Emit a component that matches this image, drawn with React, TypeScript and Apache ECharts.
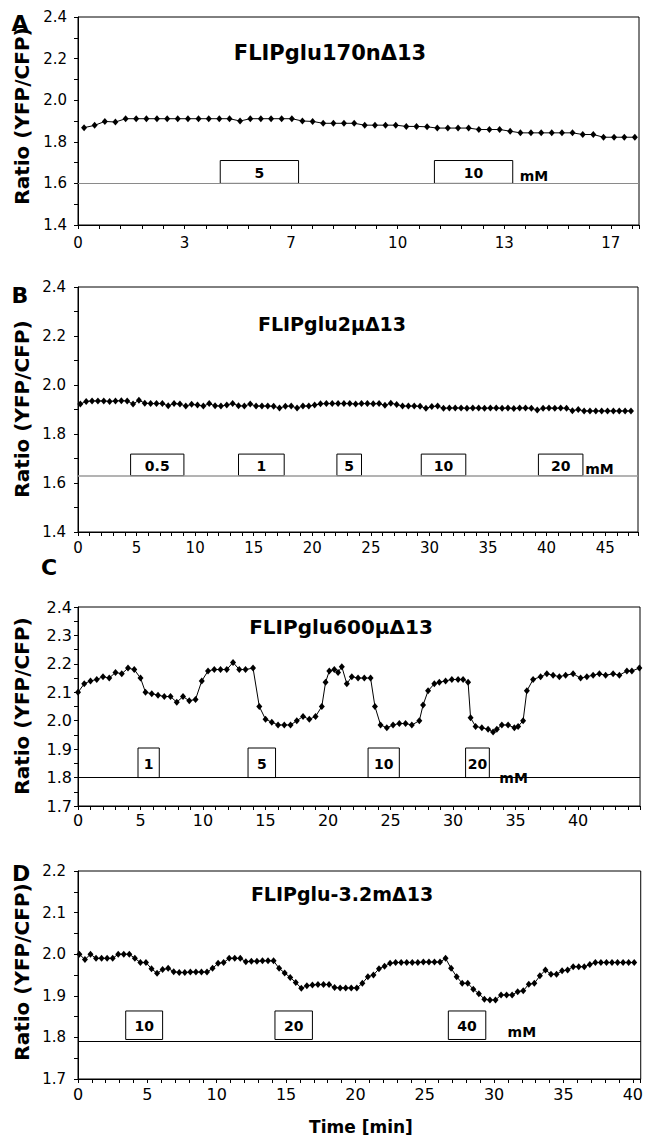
import React, { useEffect, useRef } from 'react';
import * as echarts from 'echarts';

const FONT = '"DejaVu Sans", sans-serif';

// ---------- Panel A : FLIPglu170nΔ13 ----------
const titleA = 'FLIPglu170nΔ13';
const timeA = [0.19, 0.52, 0.84, 1.17, 1.49, 1.82, 2.14, 2.47, 2.79, 3.12, 3.44, 3.77, 4.09, 4.42, 4.74, 5.07, 5.39, 5.72, 6.04, 6.37, 6.69, 7.02, 7.34, 7.67, 7.99, 8.32, 8.64, 8.97, 9.29, 9.62, 9.94, 10.27, 10.59, 10.92, 11.24, 11.57, 11.89, 12.22, 12.54, 12.87, 13.19, 13.52, 13.84, 14.17, 14.49, 14.82, 15.14, 15.47, 15.79, 16.12, 16.44, 16.77, 17.09, 17.42];
const ratioA = [1.868, 1.879, 1.898, 1.895, 1.911, 1.911, 1.911, 1.911, 1.911, 1.911, 1.911, 1.911, 1.911, 1.911, 1.911, 1.900, 1.911, 1.911, 1.911, 1.911, 1.911, 1.900, 1.898, 1.889, 1.889, 1.889, 1.889, 1.880, 1.880, 1.880, 1.880, 1.874, 1.874, 1.872, 1.866, 1.866, 1.866, 1.866, 1.859, 1.859, 1.859, 1.851, 1.843, 1.843, 1.843, 1.843, 1.843, 1.843, 1.835, 1.835, 1.822, 1.822, 1.822, 1.822];
const boxesA = [[4.45, 6.9, 1.71, 1.6], [11.15, 13.6, 1.71, 1.6]];
const boxLabelsA = ['5', '10'];
const baselineA = 1.6;
const unitA = [13.82, 1.6];

// ---------- Panel B : FLIPglu2μΔ13 ----------
const titleB = 'FLIPglu2μΔ13';
const timeB = [0.2, 0.7, 1.2, 1.7, 2.2, 2.7, 3.2, 3.7, 4.2, 4.7, 5.2, 5.7, 6.2, 6.7, 7.2, 7.7, 8.2, 8.7, 9.2, 9.7, 10.2, 10.7, 11.2, 11.7, 12.2, 12.7, 13.2, 13.7, 14.2, 14.7, 15.2, 15.7, 16.2, 16.7, 17.2, 17.7, 18.2, 18.7, 19.2, 19.7, 20.2, 20.7, 21.2, 21.7, 22.2, 22.7, 23.2, 23.7, 24.2, 24.7, 25.2, 25.7, 26.2, 26.7, 27.2, 27.7, 28.2, 28.7, 29.2, 29.7, 30.2, 30.7, 31.2, 31.7, 32.2, 32.7, 33.2, 33.7, 34.2, 34.7, 35.2, 35.7, 36.2, 36.7, 37.2, 37.7, 38.2, 38.7, 39.2, 39.7, 40.2, 40.7, 41.2, 41.7, 42.2, 42.7, 43.2, 43.7, 44.2, 44.7, 45.2, 45.7, 46.2, 46.7, 47.2];
const ratioB = [1.922, 1.933, 1.935, 1.935, 1.935, 1.933, 1.935, 1.936, 1.935, 1.922, 1.938, 1.926, 1.924, 1.924, 1.924, 1.915, 1.924, 1.922, 1.914, 1.921, 1.918, 1.914, 1.924, 1.915, 1.914, 1.918, 1.925, 1.915, 1.914, 1.922, 1.914, 1.914, 1.914, 1.913, 1.906, 1.913, 1.914, 1.906, 1.914, 1.914, 1.918, 1.923, 1.924, 1.924, 1.924, 1.924, 1.924, 1.922, 1.924, 1.924, 1.923, 1.924, 1.917, 1.926, 1.920, 1.914, 1.914, 1.914, 1.913, 1.905, 1.912, 1.914, 1.905, 1.906, 1.906, 1.906, 1.905, 1.906, 1.906, 1.905, 1.906, 1.906, 1.905, 1.906, 1.904, 1.906, 1.906, 1.905, 1.898, 1.905, 1.906, 1.905, 1.906, 1.905, 1.895, 1.900, 1.894, 1.894, 1.894, 1.894, 1.894, 1.894, 1.894, 1.894, 1.894];
const boxesB = [[4.49, 9.04, 1.718, 1.63], [13.7, 17.6, 1.718, 1.63], [22.1, 24.2, 1.718, 1.63], [29.3, 33.1, 1.718, 1.63], [39.3, 43.1, 1.718, 1.63]];
const boxLabelsB = ['0.5', '1', '5', '10', '20'];
const baselineB = 1.63;
const unitB = [43.3, 1.63];

// ---------- Panel C : FLIPglu600μΔ13 ----------
const titleC = 'FLIPglu600μΔ13';
const timeC = [0.0, 0.5, 1.0, 1.5, 2.0, 2.5, 3.0, 3.5, 4.0, 4.5, 5.0, 5.4, 5.9, 6.4, 6.9, 7.4, 7.9, 8.4, 8.9, 9.4, 9.9, 10.4, 10.9, 11.4, 11.9, 12.4, 12.9, 13.4, 14.0, 14.5, 15.0, 15.5, 16.0, 16.5, 17.0, 17.5, 18.0, 18.5, 19.0, 19.5, 19.8, 20.1, 20.5, 20.8, 21.1, 21.5, 21.9, 22.4, 22.9, 23.4, 23.75, 24.2, 24.7, 25.2, 25.7, 26.2, 26.7, 27.3, 27.6, 28.0, 28.5, 28.9, 29.4, 29.9, 30.4, 30.8, 31.2, 31.4, 31.8, 32.3, 32.8, 33.2, 33.5, 33.9, 34.4, 34.9, 35.2, 35.6, 35.9, 36.4, 37.0, 37.5, 38.0, 38.5, 39.0, 39.6, 40.2, 40.7, 41.2, 41.7, 42.2, 42.8, 43.3, 43.9, 44.3, 44.9];
const ratioC = [2.10, 2.13, 2.14, 2.145, 2.155, 2.15, 2.17, 2.165, 2.185, 2.18, 2.15, 2.10, 2.095, 2.09, 2.085, 2.085, 2.065, 2.085, 2.07, 2.075, 2.14, 2.175, 2.18, 2.18, 2.18, 2.205, 2.18, 2.18, 2.185, 2.05, 2.005, 1.995, 1.985, 1.985, 1.985, 2.00, 2.015, 2.005, 2.015, 2.05, 2.135, 2.175, 2.18, 2.17, 2.19, 2.13, 2.155, 2.15, 2.15, 2.15, 2.05, 1.985, 1.975, 1.985, 1.99, 1.99, 1.985, 2.00, 2.055, 2.105, 2.13, 2.135, 2.14, 2.145, 2.145, 2.145, 2.135, 2.01, 1.98, 1.975, 1.97, 1.96, 1.97, 1.985, 1.985, 1.975, 1.98, 2.00, 2.105, 2.145, 2.155, 2.165, 2.16, 2.155, 2.16, 2.165, 2.15, 2.155, 2.16, 2.165, 2.16, 2.165, 2.16, 2.175, 2.175, 2.185];
const boxesC = [[4.8, 6.5, 1.904, 1.8], [13.6, 15.8, 1.904, 1.8], [23.2, 25.7, 1.904, 1.8], [31.0, 32.9, 1.904, 1.8]];
const boxLabelsC = ['1', '5', '10', '20'];
const baselineC = 1.8;
const unitC = [33.7, 1.8];

// ---------- Panel D : FLIPglu-3.2mΔ13 ----------
const titleD = 'FLIPglu-3.2mΔ13';
const timeD = [0.1, 0.5, 0.9, 1.3, 1.7, 2.1, 2.5, 2.9, 3.3, 3.7, 4.1, 4.5, 4.9, 5.3, 5.7, 6.1, 6.5, 6.9, 7.3, 7.7, 8.1, 8.5, 8.9, 9.3, 9.7, 10.1, 10.5, 10.9, 11.3, 11.7, 12.1, 12.5, 12.9, 13.3, 13.7, 14.1, 14.5, 14.9, 15.3, 15.7, 16.1, 16.5, 16.9, 17.3, 17.7, 18.1, 18.5, 18.9, 19.3, 19.7, 20.1, 20.5, 20.9, 21.3, 21.7, 22.1, 22.5, 22.9, 23.3, 23.7, 24.1, 24.5, 24.9, 25.3, 25.7, 26.1, 26.5, 26.9, 27.3, 27.7, 28.1, 28.5, 28.9, 29.3, 29.7, 30.1, 30.5, 30.9, 31.3, 31.7, 32.1, 32.5, 32.9, 33.3, 33.7, 34.1, 34.5, 34.9, 35.3, 35.7, 36.1, 36.5, 36.9, 37.3, 37.7, 38.1, 38.5, 38.9, 39.3, 39.7, 40.1];
const ratioD = [2.000, 1.987, 2.000, 1.990, 1.990, 1.990, 1.990, 2.000, 2.000, 2.000, 1.990, 1.980, 1.980, 1.965, 1.954, 1.963, 1.966, 1.958, 1.956, 1.956, 1.957, 1.957, 1.957, 1.957, 1.966, 1.978, 1.980, 1.990, 1.990, 1.990, 1.982, 1.983, 1.983, 1.984, 1.984, 1.984, 1.966, 1.955, 1.944, 1.932, 1.918, 1.924, 1.926, 1.927, 1.927, 1.927, 1.920, 1.919, 1.919, 1.919, 1.919, 1.930, 1.946, 1.950, 1.965, 1.971, 1.978, 1.980, 1.980, 1.980, 1.980, 1.980, 1.981, 1.981, 1.981, 1.981, 1.990, 1.966, 1.946, 1.930, 1.930, 1.916, 1.905, 1.892, 1.890, 1.890, 1.902, 1.902, 1.902, 1.910, 1.912, 1.928, 1.930, 1.948, 1.962, 1.952, 1.952, 1.960, 1.962, 1.970, 1.970, 1.970, 1.975, 1.980, 1.980, 1.980, 1.980, 1.980, 1.980, 1.980, 1.980];
const boxesD = [[3.44, 6.1, 1.8635, 1.795], [14.2, 16.9, 1.8635, 1.795], [26.7, 29.4, 1.8635, 1.795]];
const boxLabelsD = ['10', '20', '40'];
const baselineD = 1.795;
const unitD = [30.97, 1.814];

const yTitle = 'Ratio (YFP/CFP)';
const xTitle = 'Time [min]';

type Panel = {
  title: string; times: number[]; ratios: number[]; boxes: number[][]; boxLabels: string[];
  baseline: number; unit: number[];
};

const panels: Panel[] = [
  { title: titleA, times: timeA, ratios: ratioA, boxes: boxesA, boxLabels: boxLabelsA, baseline: baselineA, unit: unitA },
  { title: titleB, times: timeB, ratios: ratioB, boxes: boxesB, boxLabels: boxLabelsB, baseline: baselineB, unit: unitB },
  { title: titleC, times: timeC, ratios: ratioC, boxes: boxesC, boxLabels: boxLabelsC, baseline: baselineC, unit: unitC },
  { title: titleD, times: timeD, ratios: ratioD, boxes: boxesD, boxLabels: boxLabelsD, baseline: baselineD, unit: unitD },
];

// layout (pixels) and axis settings per panel
const layout = [
  { left: 78, top: 17, width: 561, height: 208, xMax: 17.55, xInt: 2 / 3, yMin: 1.4, yMax: 2.4, yInt: 0.1, lineColor: '#8a8a8a', lineW: 1, yFont: 15, xFont: 15, yMargin: 11, xMargin: 10, titleX: 330, titleY: 53, titleSize: 21, letter: 'A', letterX: 20, letterY: 23, yTitleY: 116 },
  { left: 78, top: 287, width: 560, height: 245, xMax: 47.8, xInt: 1, yMin: 1.4, yMax: 2.4, yInt: 0.1, lineColor: '#9a9a9a', lineW: 1.5, yFont: 15, xFont: 15, yMargin: 12, xMargin: 8, titleX: 332, titleY: 324, titleSize: 19, letter: 'B', letterX: 20, letterY: 295, yTitleY: 409 },
  { left: 78, top: 607, width: 562, height: 199, xMax: 44.95, xInt: 1, yMin: 1.7, yMax: 2.4, yInt: 0.05, lineColor: '#000', lineW: 1, yFont: 16, xFont: 16, yMargin: 6, xMargin: 6, titleX: 341, titleY: 627, titleSize: 20, letter: 'C', letterX: 49, letterY: 567, yTitleY: 706 },
  { left: 78, top: 871, width: 566, height: 208, xMax: 40.57, xInt: 1, yMin: 1.7, yMax: 2.2, yInt: 0.05, lineColor: '#000', lineW: 1, yFont: 15, xFont: 16, yMargin: 12, xMargin: 7, titleX: 342, titleY: 894, titleSize: 19, letter: 'D', letterX: 21, letterY: 873, yTitleY: 972 },
];

function xFormatter(i: number) {
  return (v: number) => {
    if (i === 0) {
      const k = v * 1.5;
      const r = Math.round(k);
      return Math.abs(k - r) < 1e-3 && r % 5 === 0 ? String(Math.round(v)) : '';
    }
    const r = Math.round(v);
    return Math.abs(v - r) < 1e-6 && r % 5 === 0 ? String(r) : '';
  };
}

function yFormatter(i: number) {
  return (v: number) => {
    if (i < 2) {
      const k = Math.round(v * 10);
      return Math.abs(v * 10 - k) < 1e-3 && k % 2 === 0 ? v.toFixed(1) : '';
    }
    const k = Math.round(v * 20);
    return Math.abs(v * 20 - k) < 1e-3 && k % 2 === 0 ? v.toFixed(1) : '';
  };
}

export default function App() {
  const ref = useRef<HTMLDivElement>(null);

  useEffect(() => {
    document.body.style.margin = '0';
    if (!ref.current) return;
    const chart = echarts.init(ref.current, undefined, { renderer: 'svg' });

    const grid = layout.map((l) => ({
      left: l.left, top: l.top, width: l.width, height: l.height,
      show: true, borderColor: '#000', borderWidth: 1, containLabel: false,
    }));

    const xAxis = layout.map((l, i) => ({
      type: 'value', gridIndex: i, min: 0, max: l.xMax, interval: l.xInt,
      axisLine: { show: true, lineStyle: { color: '#000', width: 1 } },
      axisTick: { show: true, length: 4, lineStyle: { color: '#000', width: 1 } },
      splitLine: { show: false },
      axisLabel: { formatter: xFormatter(i), color: '#000', fontSize: l.xFont, fontFamily: FONT, margin: l.xMargin },
    }));

    const yAxis = layout.map((l, i) => ({
      type: 'value', gridIndex: i, min: l.yMin, max: l.yMax, interval: l.yInt,
      axisLine: { show: true, lineStyle: { color: '#000', width: 1 } },
      axisTick: { show: true, length: 4, lineStyle: { color: '#000', width: 1 } },
      splitLine: { show: false },
      axisLabel: { formatter: yFormatter(i), color: '#000', fontSize: l.yFont, fontFamily: FONT, margin: l.yMargin },
    }));

    const series: any[] = [];
    panels.forEach((p, i) => {
      const l = layout[i];
      series.push({
        type: 'line', xAxisIndex: i, yAxisIndex: i,
        data: p.times.map((t, k) => [t, p.ratios[k]]),
        symbol: 'diamond', symbolSize: [6, 7], showAllSymbol: true,
        itemStyle: { color: '#000' },
        lineStyle: { color: '#000', width: 1 },
        markLine: {
          silent: true, symbol: 'none', label: { show: false },
          lineStyle: { color: l.lineColor, width: l.lineW, type: 'solid' },
          data: [{ yAxis: p.baseline }],
        },
        z: 3,
      });
      series.push({
        type: 'custom', xAxisIndex: i, yAxisIndex: i,
        data: p.boxes,
        encode: { x: [0, 1], y: [2, 3] },
        renderItem: (params: any, api: any) => {
          const a = api.coord([api.value(0), api.value(2)]);
          const b = api.coord([api.value(1), api.value(3)]);
          return {
            type: 'group',
            children: [
              { type: 'rect', shape: { x: a[0], y: a[1], width: b[0] - a[0], height: b[1] - a[1] }, style: { fill: '#fff', stroke: '#000', lineWidth: 1 } },
              { type: 'text', style: { text: p.boxLabels[params.dataIndex], x: (a[0] + b[0]) / 2, y: (a[1] + b[1]) / 2 + 1, align: 'center', verticalAlign: 'middle', font: `bold 14px ${FONT}`, fill: '#000' } },
            ],
          };
        },
        z: 4,
      });
      series.push({
        type: 'custom', xAxisIndex: i, yAxisIndex: i,
        data: [p.unit],
        renderItem: (params: any, api: any) => {
          const a = api.coord([api.value(0), api.value(1)]);
          return { type: 'text', style: { text: 'mM', x: a[0], y: a[1], align: 'left', verticalAlign: i === 0 || i === 1 ? 'bottom' : 'middle', font: `bold 14px ${FONT}`, fill: '#000' } };
        },
        z: 4,
      });
    });

    const graphic: any[] = [];
    layout.forEach((l, i) => {
      graphic.push({ type: 'text', x: l.titleX, y: l.titleY, style: { text: panels[i].title, align: 'center', verticalAlign: 'middle', font: `bold ${l.titleSize}px ${FONT}`, fill: '#000' } });
      graphic.push({ type: 'text', x: l.letterX, y: l.letterY, style: { text: l.letter, align: 'center', verticalAlign: 'middle', font: `bold 22px ${FONT}`, fill: '#000' } });
      graphic.push({ type: 'text', x: 22, y: l.yTitleY, rotation: Math.PI / 2, style: { text: yTitle, align: 'center', verticalAlign: 'middle', font: `bold 20px ${FONT}`, fill: '#000' } });
    });
    graphic.push({ type: 'text', x: 361, y: 1127, style: { text: xTitle, align: 'center', verticalAlign: 'middle', font: `bold 17px ${FONT}`, fill: '#000' } });

    chart.setOption({
      animation: false,
      backgroundColor: '#fff',
      grid, xAxis, yAxis, series, graphic,
    });

    return () => chart.dispose();
  }, []);

  return <div ref={ref} style={{ width: 646, height: 1139 }} />;
}
